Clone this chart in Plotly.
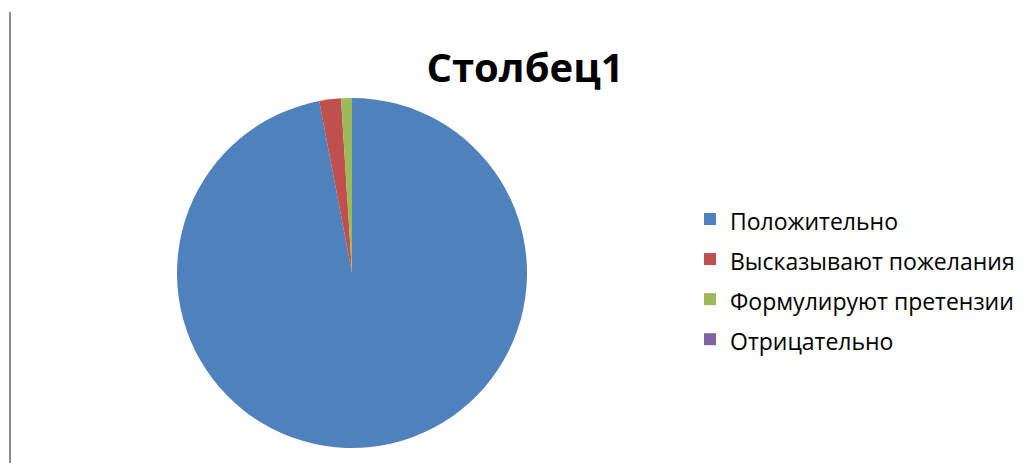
import plotly.graph_objects as go

labels = ["Положительно", "Высказывают пожелания", "Формулируют претензии", "Отрицательно"]
values = [97, 2, 1, 0]
colors = ["#4F81BD", "#C0504D", "#9BBB59", "#8064A2"]
title = "Столбец1"

W, H = 1024, 463
OFF = 8  # page body margin


def px(x):
    return (x - OFF) / W


def py(y):
    return 1 - (y - OFF) / H


cx, cy, d = 352, 273, 350
legend_text_size = 23

fig = go.Figure(go.Pie(
    labels=[f'<span style="font-size:{legend_text_size}px">{l}</span>' for l in labels],
    values=values,
    sort=False,
    direction="clockwise",
    rotation=0,
    textinfo="none",
    hovertemplate="%{label}: %{value}<extra></extra>",
    marker=dict(colors=colors, line=dict(width=0)),
    domain=dict(x=[px(cx - d / 2), px(cx + d / 2)],
                y=[py(cy + d / 2), py(cy - d / 2)]),
    showlegend=True,
))

fig.update_layout(
    width=W, height=H,
    margin=dict(l=0, r=0, t=0, b=0),
    paper_bgcolor="white",
    plot_bgcolor="white",
    title=dict(text=title, x=px(525), xanchor="center", y=py(67.5), yanchor="middle",
               font=dict(family="Open Sans", size=40, color="black", weight="bold")),
    legend=dict(x=px(690), xanchor="left", y=py(194), yanchor="top",
                font=dict(family="Open Sans", size=28.5, color="black"),
                itemwidth=30, bgcolor="rgba(0,0,0,0)"),
    shapes=[dict(type="line", xref="paper", yref="paper",
                 x0=px(10), x1=px(10), y0=0, y1=py(12),
                 line=dict(color="#8c8c8c", width=2))],
)

fig.write_html("out.html")
